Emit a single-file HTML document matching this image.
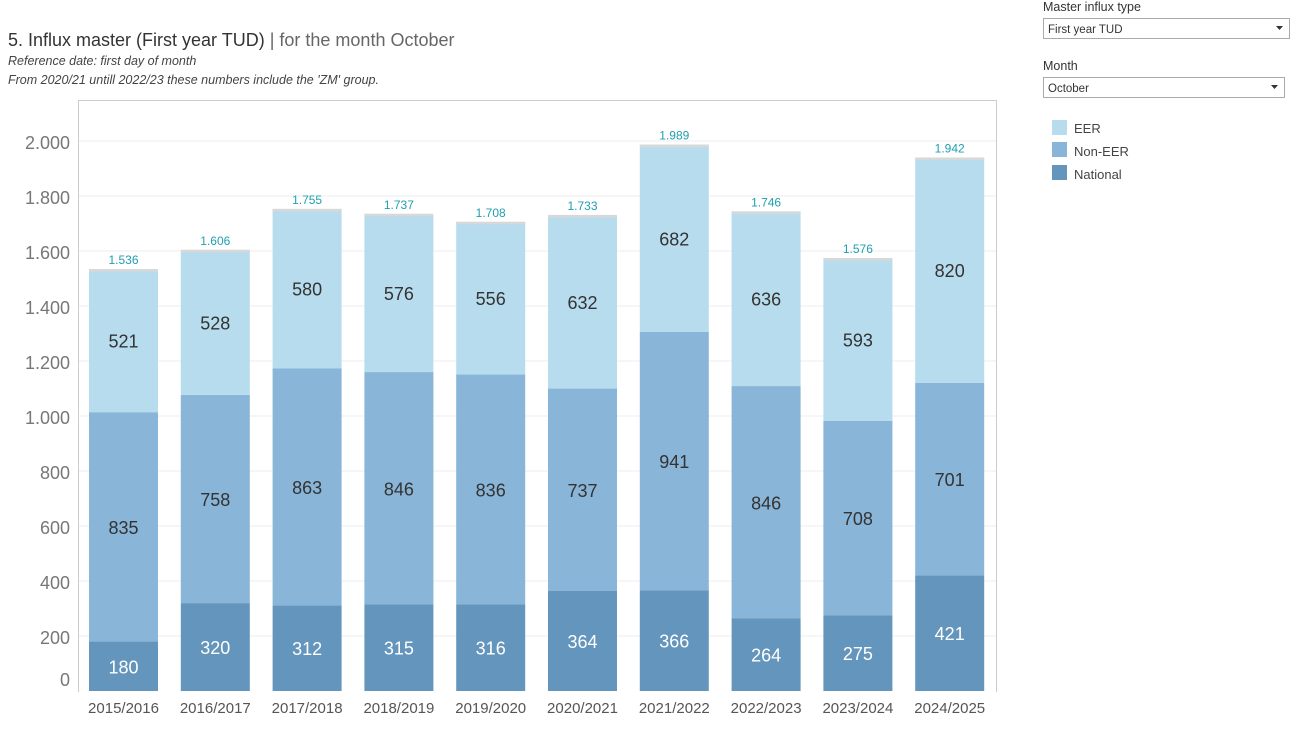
<!DOCTYPE html>
<html><head><meta charset="utf-8"><style>
body{margin:0;background:#fff;width:1299px;height:727px;overflow:hidden;font-family:"Liberation Sans",sans-serif}
</style></head><body>
<svg width="1299" height="727" xmlns="http://www.w3.org/2000/svg" font-family="Liberation Sans, sans-serif">
<text x="8" y="46" font-size="18" fill="#333">5. Influx master (First year TUD) <tspan fill="#666">| for the month October</tspan></text>
<text x="8" y="65" font-size="12.5" font-style="italic" fill="#444">Reference date: first day of month</text>
<text x="8" y="84" font-size="12.5" font-style="italic" fill="#444">From 2020/21 untill 2022/23 these numbers include the 'ZM' group.</text>
<g stroke="#eee">
<line x1="79" x2="996" y1="141" y2="141"/><line x1="79" x2="996" y1="196" y2="196"/><line x1="79" x2="996" y1="251" y2="251"/><line x1="79" x2="996" y1="306" y2="306"/><line x1="79" x2="996" y1="361" y2="361"/><line x1="79" x2="996" y1="416" y2="416"/><line x1="79" x2="996" y1="471" y2="471"/><line x1="79" x2="996" y1="526" y2="526"/><line x1="79" x2="996" y1="581" y2="581"/><line x1="79" x2="996" y1="636" y2="636"/>
</g>
<path d="M78.5 692V100.5H996.5V692" fill="none" stroke="#ccc"/>
<g font-size="18" fill="#777" text-anchor="end">
<text x="70" y="149">2.000</text><text x="70" y="204">1.800</text><text x="70" y="259">1.600</text><text x="70" y="314">1.400</text><text x="70" y="369">1.200</text><text x="70" y="424">1.000</text><text x="70" y="479">800</text><text x="70" y="534">600</text><text x="70" y="589">400</text><text x="70" y="644">200</text><text x="70" y="686">0</text>
</g>
<g id="bars"></g>
<g font-size="12.5" fill="#333">
<text x="1043" y="11">Master influx type</text>
<text x="1043" y="70">Month</text>
</g>
<rect x="1043.5" y="18.5" width="246" height="20" fill="#fff" stroke="#aaa"/>
<text x="1048" y="33" font-size="11.5" fill="#333">First year TUD</text>
<path d="M1276 26h7l-3.5 4z" fill="#333"/>
<rect x="1043.5" y="77.5" width="241" height="20" fill="#fff" stroke="#aaa"/>
<text x="1048" y="92" font-size="11.5" fill="#333">October</text>
<path d="M1271 85h7l-3.5 4z" fill="#333"/>
<rect x="1052" y="120" width="15" height="15" fill="#b7dcee"/>
<rect x="1052" y="142" width="15" height="15" fill="#88b5d8"/>
<rect x="1052" y="165" width="15" height="15" fill="#6495bd"/>
<g font-size="13" fill="#444"><text x="1074" y="133">EER</text><text x="1074" y="156">Non-EER</text><text x="1074" y="179">National</text></g>
</svg>
<script>
var d=[["2015/2016",180,835,521,"1.536"],["2016/2017",320,758,528,"1.606"],["2017/2018",312,863,580,"1.755"],["2018/2019",315,846,576,"1.737"],["2019/2020",316,836,556,"1.708"],["2020/2021",364,737,632,"1.733"],["2021/2022",366,941,682,"1.989"],["2022/2023",264,846,636,"1.746"],["2023/2024",275,708,593,"1.576"],["2024/2025",421,701,820,"1.942"]];
var g=document.getElementById("bars"),B=691,k=0.2747,h="";
d.forEach(function(r,i){var cx=123.5+i*91.8,x=cx-34.5,w=69,y=B;
var cols=["#6495bd","#88b5d8","#b7dcee"],tc=["#fff","#333","#333"];
for(var j=0;j<3;j++){var hh=r[j+1]*k;y-=hh;h+='<rect x="'+x+'" y="'+y+'" width="'+w+'" height="'+hh+'" fill="'+cols[j]+'"/>';
h+='<text x="'+cx+'" y="'+(y+hh/2+7)+'" font-size="18" text-anchor="middle" fill="'+tc[j]+'">'+r[j+1]+'</text>';}
h+='<rect x="'+x+'" y="'+y+'" width="'+w+'" height="2.5" fill="#d8d8d8"/>';
h+='<text x="'+cx+'" y="'+(y-5)+'" font-size="12" text-anchor="middle" fill="#1f9fb0">'+r[4]+'</text>';
h+='<text x="'+cx+'" y="713" font-size="15" text-anchor="middle" fill="#555">'+r[0]+'</text>';});
g.innerHTML=h;
</script>
</body></html>
